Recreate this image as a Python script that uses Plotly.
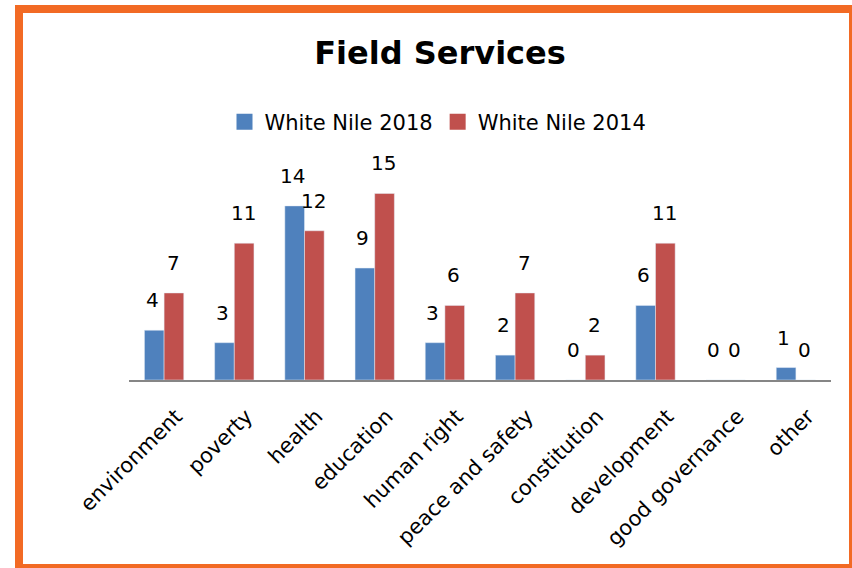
import plotly.graph_objects as go

categories = ["environment", "poverty", "health", "education", "human right",
              "peace and safety", "constitution", "development", "good governance", "other"]
wn2018 = [4, 3, 14, 9, 3, 2, 0, 6, 0, 1]
wn2014 = [7, 11, 12, 15, 6, 7, 2, 11, 0, 0]
series_names = ["White Nile 2018", "White Nile 2014"]

BLUE = "#4F81BD"
RED = "#C0504D"
FONT = "DejaVu Sans, sans-serif"

# plot-area geometry in page pixels (body margin removed below)
L, R, T, B = 129, 831, 181, 380
PW, PH = R - L, B - T


def px_x(fx):
    return (fx - L) / PW


def px_y(fy):
    return (B - fy) / PH


fig = go.Figure()
fig.add_trace(go.Bar(x=categories, y=wn2018, name=series_names[0], marker_color=BLUE,
                     showlegend=False))
fig.add_trace(go.Bar(x=categories, y=wn2014, name=series_names[1], marker_color=RED,
                     showlegend=False))
# legend entries with larger square swatches
for nm, col in zip(series_names, [BLUE, RED]):
    fig.add_trace(go.Scatter(x=[None], y=[None], mode="markers", name=nm,
                             marker=dict(symbol="square", size=16, color=col)))

annotations = []
for c, v in zip(categories, wn2018):
    annotations.append(dict(x=c, y=v, xref="x", yref="y", text=str(v), showarrow=False,
                            xshift=-12, yshift=16, yanchor="bottom",
                            font=dict(family=FONT, size=20, color="#000")))
for c, v in zip(categories, wn2014):
    annotations.append(dict(x=c, y=v, xref="x", yref="y", text=str(v), showarrow=False,
                            xshift=9, yshift=16, yanchor="bottom",
                            font=dict(family=FONT, size=20, color="#000")))

fig.update_layout(
    width=852, height=568,
    margin=dict(l=L, r=852 - R, t=T, b=568 - B),
    paper_bgcolor="white", plot_bgcolor="white",
    barmode="group", bargap=0.44, bargroupgap=0,
    title=dict(text="<b>Field Services</b>", x=px_x(440), xref="paper", xanchor="center",
               y=1 - 53 / 568, yref="container", yanchor="middle",
               font=dict(family=FONT, size=32, color="#000")),
    legend=dict(orientation="h", x=px_x(438), xanchor="center", y=px_y(122), yanchor="middle",
                font=dict(family=FONT, size=21, color="#000"),
                bgcolor="rgba(0,0,0,0)"),
    xaxis=dict(showline=True, linecolor="#868686", linewidth=1.5, ticks="",
               tickangle=-45, tickfont=dict(family=FONT, size=21, color="#000"),
               ticklabelshift=12, ticklabelstandoff=14,
               showgrid=False, zeroline=False),
    yaxis=dict(range=[0, 16], visible=False, showgrid=False, zeroline=False),
    annotations=annotations,
    shapes=[dict(type="rect", xref="paper", yref="paper",
                 x0=px_x(19), x1=px_x(853),
                 y0=px_y(568), y1=px_y(9),
                 line=dict(color="#F26A24", width=8), fillcolor="rgba(0,0,0,0)",
                 layer="above")],
)

fig.write_html("out.html", config={"displayModeBar": False},
               post_script="document.body.style.margin='0';document.body.style.overflow='hidden';")
